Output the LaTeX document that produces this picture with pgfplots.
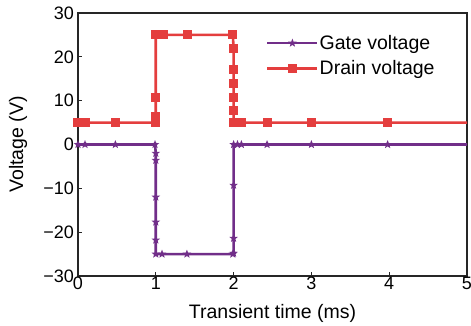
\documentclass[border=0pt]{standalone}
\usepackage{pgfplots}
\pgfplotsset{compat=1.18}
\usepackage{fontspec}
\setmainfont{Liberation Sans}
\definecolor{gatec}{RGB}{113,46,137}
\definecolor{drainc}{RGB}{228,62,62}
\pgfdeclareplotmark{fstar}{%
  \pgfpathmoveto{\pgfpointpolar{90}{\pgfplotmarksize}}%
  \pgfpathlineto{\pgfpointpolar{126}{0.42\pgfplotmarksize}}%
  \pgfpathlineto{\pgfpointpolar{162}{\pgfplotmarksize}}%
  \pgfpathlineto{\pgfpointpolar{198}{0.42\pgfplotmarksize}}%
  \pgfpathlineto{\pgfpointpolar{234}{\pgfplotmarksize}}%
  \pgfpathlineto{\pgfpointpolar{270}{0.42\pgfplotmarksize}}%
  \pgfpathlineto{\pgfpointpolar{306}{\pgfplotmarksize}}%
  \pgfpathlineto{\pgfpointpolar{342}{0.42\pgfplotmarksize}}%
  \pgfpathlineto{\pgfpointpolar{18}{\pgfplotmarksize}}%
  \pgfpathlineto{\pgfpointpolar{54}{0.42\pgfplotmarksize}}%
  \pgfpathclose
  \pgfusepathqfill
}
\begin{document}
\begin{tikzpicture}
\path[use as bounding box] (-78bp,-50bp) rectangle (393bp,276bp);
\begin{axis}[
  at={(0,0)}, anchor=south west,
  scale only axis, width=389bp, height=263bp,
  xmin=0, xmax=5, ymin=-30, ymax=30,
  xtick={0,1,2,3,4,5},
  ytick={-30,-20,-10,0,10,20,30},
  yticklabels={−30,−20,−10,0,10,20,30},
  /pgf/number format/assume math mode=true,
  xtick pos=bottom, ytick pos=left,
  tick align=inside, major tick length=4bp,
  axis line style={line width=1.1bp, black!85},
  tick style={line width=1.1bp, black!85},
  tick label style={font=\fontsize{18bp}{21bp}\selectfont},
  xticklabel style={inner sep=1bp},
  yticklabel style={inner sep=1bp, xshift=-3bp},
  label style={font=\fontsize{19.5bp}{22bp}\selectfont},
  xlabel={Transient time (ms)},
  ylabel={Voltage (V)},
  xlabel style={at={(axis description cs:0.5,-0.141)}, anchor=center},
  ylabel style={at={(axis description cs:-0.154,0.5)}, anchor=center},
  legend style={draw=none, fill=none, at={(rel axis cs:0.483,0.92)}, anchor=north west,
    font=\fontsize{19.5bp}{22bp}\selectfont, row sep=8bp, inner sep=0bp,
    nodes={inner sep=1bp}},
  legend cell align=left,
  legend image code/.code={\draw[mark indices={2}] plot coordinates {(0bp,0bp)(25bp,0bp)(50bp,0bp)};},
]
\addplot[color=gatec, line width=2.6bp, mark=fstar, mark size=4.5bp, mark indices={1,...,22}] coordinates {
(0,0) (0.09,0) (0.48,0) (0.99,0) (1.0,-2) (1.0,-3.6) (1.0,-12) (1.0,-17.7) (1.0,-21.8) (1.0,-25)
(1.08,-25) (1.4,-25) (1.99,-25) (2.0,-24.8) (2.0,-21.4) (2.0,-9.3) (2.0,0) (2.05,0) (2.1,0)
(2.43,0) (3.0,0) (3.98,0) (5,0)};
\addlegendentry{Gate voltage}
\addplot[color=drainc, line width=2.6bp, mark=square*, mark size=3.2bp, mark indices={1,...,22}] coordinates {
(0,5) (0.09,5) (0.48,5) (0.99,5) (1.0,6.3) (1.0,10.8) (1.0,25) (1.05,25) (1.1,25) (1.41,25)
(1.99,25) (2.0,22) (2.0,17) (2.0,14) (2.0,10.8) (2.0,7.8) (2.0,5) (2.05,5) (2.1,5) (2.43,5)
(3.0,5) (3.98,5) (5,5)};
\addlegendentry{Drain voltage}
\end{axis}
\end{tikzpicture}
\end{document}
